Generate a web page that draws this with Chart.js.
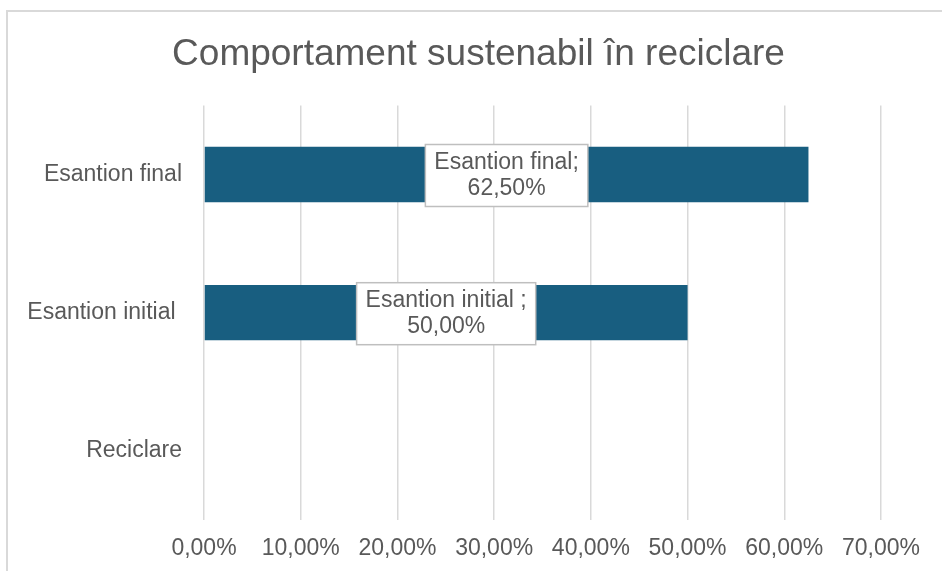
<!DOCTYPE html>
<html>
<head>
<meta charset="utf-8">
<title>Comportament sustenabil în reciclare</title>
<script src="https://cdn.jsdelivr.net/npm/chart.js@4.4.1/dist/chart.umd.min.js"></script>
<style>
  html, body { margin: 0; padding: 0; background: #fff; overflow: hidden; }
  #wrap { position: absolute; left: 0; top: 0; width: 942px; height: 571px; }
  #frame {
    position: absolute; left: 6px; top: 10px; width: 1000px; height: 1000px;
    border-top: 2px solid #d9d9d9; border-left: 2px solid #d9d9d9;
    pointer-events: none;
  }
</style>
</head>
<body>
<div id="wrap">
  <canvas id="grafic" width="942" height="571"></canvas>
  <div id="frame"></div>
</div>
<script>
// date
const categorii = ['Esantion final', 'Esantion initial ', 'Reciclare'];
const valori = [62.5, 50, null];
const etichete_x = [0, 10, 20, 30, 40, 50, 60, 70];

const FONT = '"Liberation Sans", Arial, sans-serif';
const GRI = '#595959';

function procent(v) {
  return v.toFixed(2).replace('.', ',') + '%';
}

// etichete de date in casete albe, centrate pe bara
const eticheteDate = {
  id: 'eticheteDate',
  afterDatasetsDraw(chart) {
    const ctx = chart.ctx;
    const meta = chart.getDatasetMeta(0);
    ctx.save();
    ctx.font = '23px ' + FONT;
    ctx.textAlign = 'center';
    ctx.textBaseline = 'middle';
    meta.data.forEach((bar, i) => {
      const v = valori[i];
      if (v === null || v === undefined) return;
      const linii = [categorii[i] + ';', procent(v)];
      const cx = (bar.x + bar.base) / 2;
      const cy = bar.y + 1;
      const w = Math.max(...linii.map(l => ctx.measureText(l).width)) + 18;
      const lh = 26.5;
      const h = lh * linii.length + 9;
      ctx.fillStyle = '#ffffff';
      ctx.fillRect(cx - w / 2, cy - h / 2, w, h);
      ctx.strokeStyle = '#bfbfbf';
      ctx.lineWidth = 1.5;
      ctx.strokeRect(cx - w / 2, cy - h / 2, w, h);
      ctx.fillStyle = GRI;
      linii.forEach((l, k) => {
        ctx.fillText(l, cx, cy + (k - (linii.length - 1) / 2) * lh);
      });
    });
    ctx.restore();
  }
};

new Chart(document.getElementById('grafic'), {
  type: 'bar',
  data: {
    labels: categorii,
    datasets: [{
      data: valori,
      backgroundColor: '#185e80',
      barPercentage: 0.4,
      categoryPercentage: 1
    }]
  },
  options: {
    indexAxis: 'y',
    responsive: false,
    animation: false,
    layout: { padding: { top: 0, left: 15, right: 0, bottom: 8 } },
    plugins: {
      legend: { display: false },
      tooltip: { enabled: false },
      title: {
        display: true,
        text: 'Comportament sustenabil în reciclare',
        color: GRI,
        font: { family: FONT, size: 37, weight: 'normal', lineHeight: 1.2 },
        padding: { top: 33, bottom: 28 }
      }
    },
    scales: {
      x: {
        min: 0,
        max: 70,
        afterBuildTicks: (s) => { s.ticks = etichete_x.map(v => ({ value: v })); },
        afterFit: (s) => { s.height = 43; s.paddingRight = 61; s.paddingLeft = 0; },
        grid: { color: '#d9d9d9', lineWidth: 1.5, drawTicks: false },
        border: { display: false },
        ticks: {
          color: GRI,
          padding: 15,
          font: { family: FONT, size: 23, lineHeight: 1.2 },
          callback: (v) => procent(v)
        }
      },
      y: {
        grid: { display: false, drawTicks: false },
        border: { display: false },
        afterFit: (s) => { s.width = 189; s.paddingTop = 0; s.paddingBottom = 0; },
        ticks: {
          color: GRI,
          padding: 22,
          font: { family: FONT, size: 23, lineHeight: 1.2 }
        }
      }
    }
  },
  plugins: [eticheteDate]
});
</script>
</body>
</html>
